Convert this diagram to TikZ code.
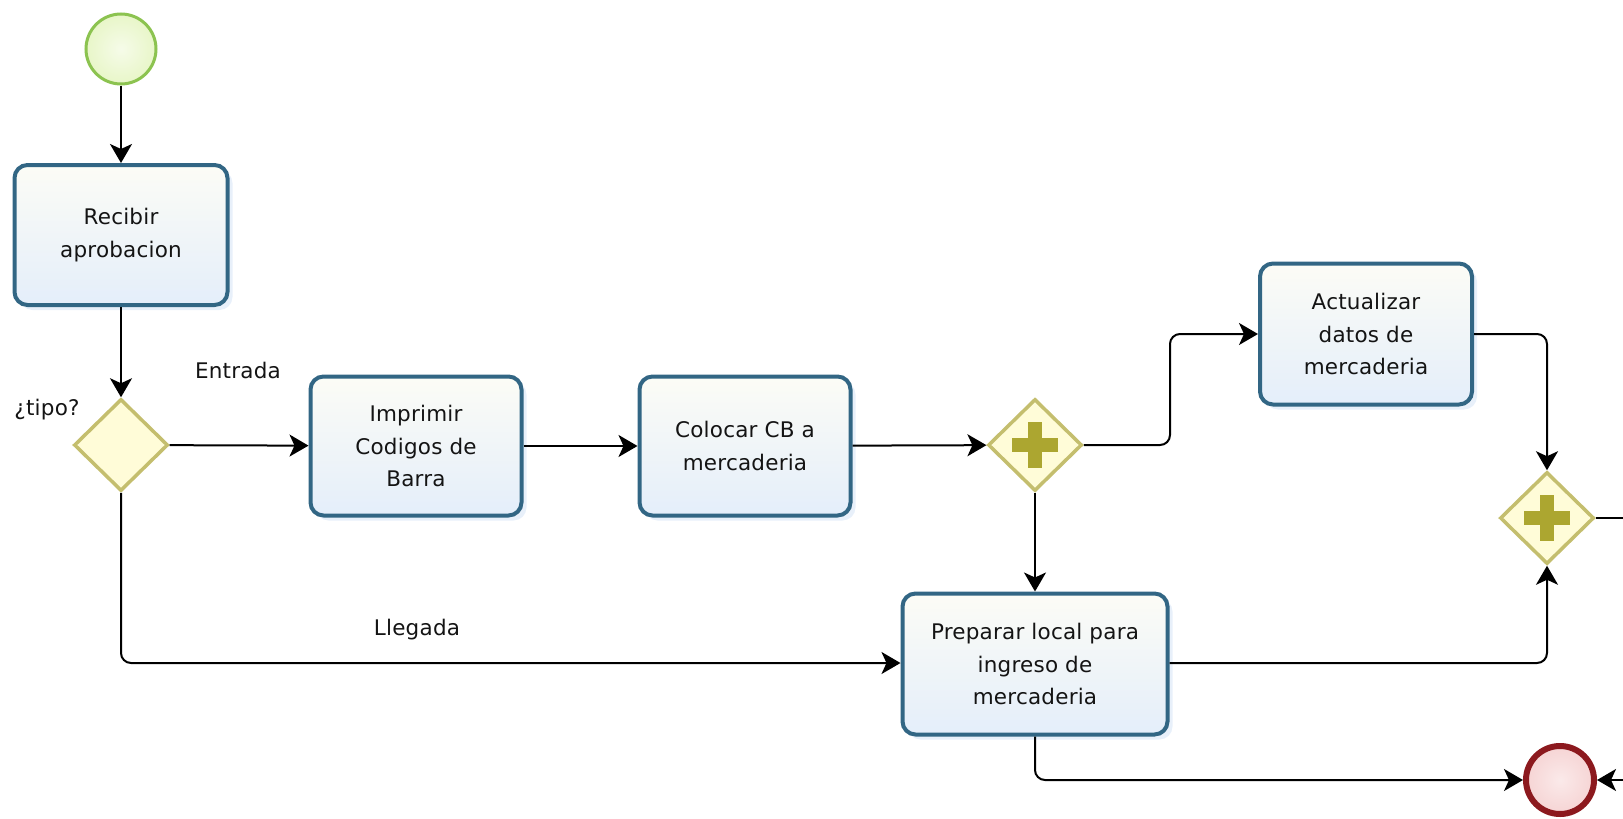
\documentclass[tikz,border=0pt]{standalone}
\usepackage{fontspec}
\setmainfont{DejaVu Sans}[LetterSpace=1]
\usetikzlibrary{shapes.geometric,arrows.meta,calc}

\definecolor{taskline}{RGB}{50,102,132}
\definecolor{tasktop}{RGB}{252,252,246}
\definecolor{taskbot}{RGB}{228,238,250}
\definecolor{taskglow}{RGB}{214,228,246}
\definecolor{startline}{RGB}{140,195,80}
\definecolor{startfill}{RGB}{232,246,200}
\definecolor{endline}{RGB}{140,25,30}
\definecolor{endfill}{RGB}{246,212,212}
\definecolor{gwline}{RGB}{196,190,110}
\definecolor{gwfill}{RGB}{255,252,216}
\definecolor{gwmark}{RGB}{172,166,48}
\definecolor{txt}{RGB}{20,20,20}

\tikzset{
  x=1pt, y=-1pt,
  every node/.style={text=txt, font=\fontsize{21.5}{32.5}\selectfont},
  task/.style={rectangle, rounded corners=13pt, line width=4pt, draw=taskline,
    top color=tasktop, bottom color=taskbot, align=center, inner sep=0pt,
    preaction={draw=none, fill=taskglow, fill opacity=0.55,
      transform canvas={shift={(5pt,-5pt)}}}},
  startev/.style={circle, line width=3pt, draw=startline, inner color=white!60!startfill,
    outer color=startfill, minimum size=70pt, inner sep=0pt},
  endev/.style={circle, line width=6pt, draw=endline, inner color=white!50!endfill,
    outer color=endfill, minimum size=68pt, inner sep=0pt},
  gateway/.style={diamond, line width=3.5pt, draw=gwline, fill=gwfill,
    minimum width=94pt, minimum height=92pt, inner sep=0pt},
  flow/.style={line width=2pt, draw=black, rounded corners=10pt,
    -{Stealth[length=19pt, width=22pt, inset=5pt]}},
  plainflow/.style={line width=2pt, draw=black},
  lbl/.style={inner sep=0pt}
}

% cross marker of a parallel gateway
\newcommand{\plusmark}[1]{%
  \fill[gwmark] ($(#1)+(-23,-7)$) rectangle ($(#1)+(23,7)$);
  \fill[gwmark] ($(#1)+(-7,-23)$) rectangle ($(#1)+(7,23)$);}

\begin{document}
\begin{tikzpicture}
\useasboundingbox (0,0) rectangle (1623,819);

% events
\node[startev] (start) at (121,49) {};
\node[endev] (end) at (1560,780) {};

% tasks
\node[task, minimum width=213pt, minimum height=140pt] (recibir) at (121,235)
  {Recibir\\aprobacion};
\node[task, minimum width=211pt, minimum height=139pt] (imprimir) at (416,446)
  {Imprimir\\Codigos de\\Barra};
\node[task, minimum width=211pt, minimum height=139pt] (colocar) at (745,446)
  {Colocar CB a\\mercaderia};
\node[task, minimum width=212pt, minimum height=141pt] (actualizar) at (1366,334)
  {Actualizar\\datos de\\mercaderia};
\node[task, minimum width=265pt, minimum height=141pt] (preparar) at (1035,664)
  {Preparar local para\\ingreso de\\mercaderia};

% gateways
\node[gateway] (tipo) at (121,445) {};
\node[gateway] (split) at (1035,445) {};
\node[gateway] (join) at (1547,518) {};
\plusmark{split}
\plusmark{join}

% labels
\node[lbl] (tipolbl) at (47,410) {¿tipo?};
\node[lbl] (entrada) at (238,370) {Entrada};
\node[lbl] (llegada) at (417,630) {Llegada};

% free ends at the right border
\coordinate (outjoin) at (1623,518);
\coordinate (inend) at (1623,780);

% sequence flows
\draw[flow] (start) -- (recibir);
\draw[flow] (recibir) -- (tipo);
\draw[flow] (tipo) -- (imprimir);
\draw[flow] (imprimir) -- (colocar);
\draw[flow] (colocar) -- (split);
\draw[flow] (split.east) -- (1170,445) -- (1170,334) -- (actualizar.west);
\draw[flow] (split) -- (preparar);
\draw[flow] (tipo.south) -- (121,663) -- (preparar.west |- 0,663);
\draw[flow] (actualizar.east) -- (1547,334) -- (join.north);
\draw[flow] (preparar.east |- 0,663) -- (1547,663) -- (join.south);
\draw[flow] (preparar.south) -- (1035,780) -- (end.west);
\draw[plainflow] (join.east) -- (outjoin);
\draw[flow] (inend) -- (end.east);
\end{tikzpicture}
\end{document}
